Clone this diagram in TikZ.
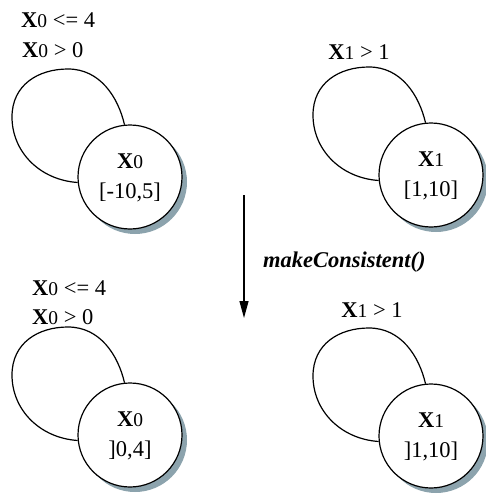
\documentclass[tikz,border=0pt]{standalone}
\usepackage{fontspec}
\setmainfont{Liberation Serif}
\usetikzlibrary{calc,arrows.meta,shadows}
\definecolor{shadowc}{RGB}{140,163,173}
\newcommand{\xv}[1]{\textbf{X}{\fontsize{19.5}{20}\selectfont #1}}
\newcommand{\stxt}[2]{\raisebox{-4pt}{\begin{tabular}{@{}c@{}}#1\\{}#2\end{tabular}}}
\tikzset{
  state/.style={circle, draw, line width=1.2pt, fill=white, minimum size=104pt, inner sep=0pt,
    align=center, font=\fontsize{22.5}{30}\selectfont,
    drop shadow={shadow xshift=5pt, shadow yshift=-5pt, fill=shadowc, opacity=1}},
  cond/.style={font=\fontsize{22.5}{27}\selectfont, inner sep=0pt},
  loopline/.style={line width=1.2pt},
  mkarrow/.style={line width=1.2pt, -{Triangle[length=17pt,width=9pt]}}
}
\begin{document}
\begin{tikzpicture}[x=1pt,y=-1pt]
\useasboundingbox (0,0) rectangle (485,495);
% nodes
\node[state] (s0) at (130,177) {\stxt{\xv{0}}{[-10,5]}};
\node[state] (s1) at (431,175) {\stxt{\xv{1}}{[1,10]}};
\node[state] (t0) at (130,435) {\stxt{\xv{0}}{]0,4]}};
\node[state] (t1) at (431,436) {\stxt{\xv{1}}{]1,10]}};
% loops
\foreach \n in {s0,s1,t0,t1}{
  \draw[loopline] (\n.186) .. controls ($(\n)+(-90,3)$) and ($(\n)+(-118,-25)$) .. ($(\n)+(-118,-60)$)
     .. controls ($(\n)+(-118,-92)$) and ($(\n)+(-92,-108)$) .. ($(\n)+(-62,-108)$)
     .. controls ($(\n)+(-30,-108)$) and ($(\n)+(-12,-80)$) .. (\n.96);
}
% conditions
\node[cond, anchor=west] (c1) at (21,20) {\xv{0} <= 4};
\node[cond, anchor=west] (c2) at (22,50) {\xv{0} > 0};
\node[cond] (c3) at (359,52) {\xv{1} > 1};
\node[cond, anchor=west] (c4) at (32,288) {\xv{0} <= 4};
\node[cond, anchor=west] (c5) at (32,317) {\xv{0} > 0};
\node[cond] (c6) at (372,310) {\xv{1} > 1};
% transition arrow
\coordinate (a1) at (244,195);
\coordinate (a2) at (244,318);
\draw[mkarrow] (a1) -- (a2);
\node[cond, anchor=west, font=\fontsize{22.5}{27}\selectfont\bfseries\itshape] (lab) at (263,262) {makeConsistent()};
\end{tikzpicture}
\end{document}
